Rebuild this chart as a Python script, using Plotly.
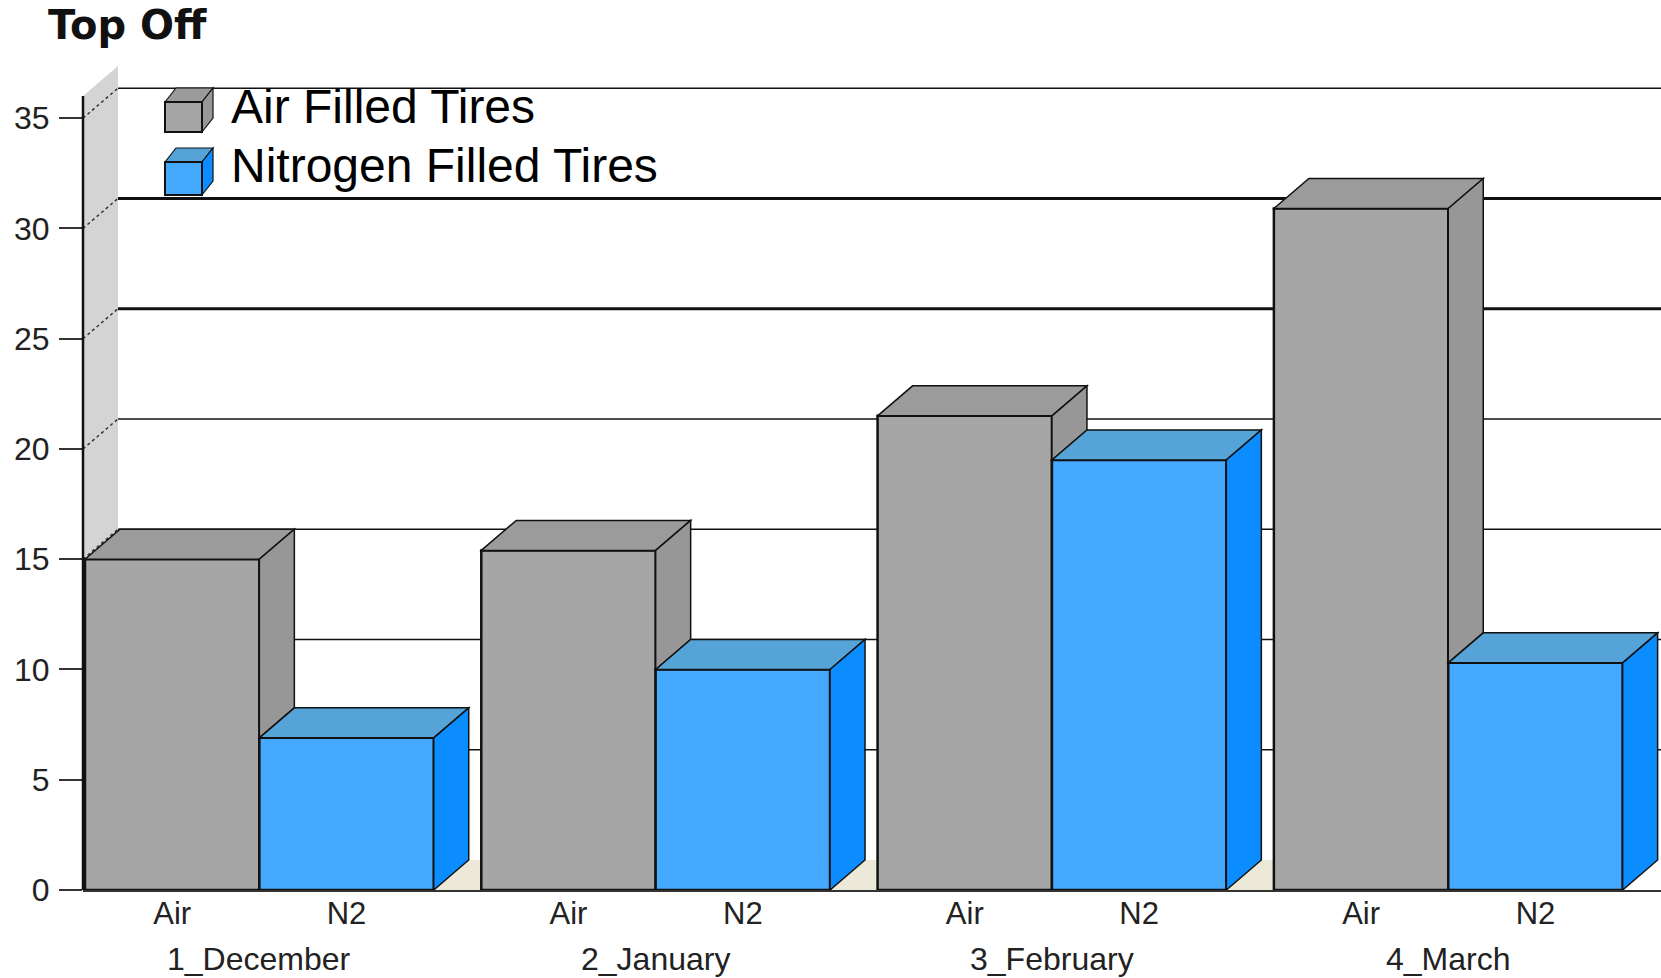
import plotly.graph_objects as go

# ---- data -------------------------------------------------------------
months = ["1_December", "2_January", "3_February", "4_March"]
bar_labels = ["Air", "N2"]
series_names = ["Air Filled Tires", "Nitrogen Filled Tires"]
air_values = [15.0, 15.4, 21.5, 30.9]
n2_values = [6.9, 10.0, 19.5, 10.3]
y_ticks = [0, 5, 10, 15, 20, 25, 30, 35]

# ---- geometry / style -------------------------------------------------
W, H = 1661, 978
M_L, M_R, M_T, M_B = 83, 0, 63, 88
PLOT_W = W - M_L - M_R
PLOT_H = H - M_T - M_B
GROUP_PX = 396.3                      # pixels between month groups
Y_RANGE = [0, 37.5]
X_RANGE = [-0.445, -0.445 + PLOT_W / GROUP_PX]
BAR_W = 0.44
DEPTH_PX = (35, 30)                   # 3-D extrusion (right, up) in pixels
WALL_TOP = 36
GRID_WIDTHS = {5: 1.5, 10: 1.5, 15: 1.5, 20: 1.5, 25: 3, 30: 3, 35: 1.5}

AIR = dict(front="#a6a6a6", top="#9b9b9b", side="#979797")
N2 = dict(front="#44a9ff", top="#55a3d7", side="#0b8cff")
WALL = "#d4d4d4"
FLOOR = "#ece9d8"
EDGE = "#111111"
FONT = "Liberation Sans, Arial, sans-serif"

px_x = PLOT_W / (X_RANGE[1] - X_RANGE[0])
px_y = PLOT_H / (Y_RANGE[1] - Y_RANGE[0])
DX = DEPTH_PX[0] / px_x
DY = DEPTH_PX[1] / px_y


def path(points):
    return "M " + " L ".join(f"{x},{y}" for x, y in points) + " Z"


def face(points, fill, layer="above", width=1.5, xref="x", yref="y"):
    return dict(type="path", path=path(points), fillcolor=fill, xref=xref, yref=yref,
                line=dict(color=EDGE, width=width), layer=layer)


def to_paper(px, py):
    return (px - M_L) / PLOT_W, (H - M_B - py) / PLOT_H


fig = go.Figure()

# front faces of the bars
groups = list(range(len(months)))
fig.add_trace(go.Bar(x=groups, y=air_values, name=series_names[0], width=BAR_W, offset=-BAR_W,
                     marker=dict(color=AIR["front"], line=dict(color=EDGE, width=2.5))))
fig.add_trace(go.Bar(x=groups, y=n2_values, name=series_names[1], width=BAR_W, offset=0,
                     marker=dict(color=N2["front"], line=dict(color=EDGE, width=2.5))))

shapes = []
x0 = X_RANGE[0]

# back wall on the left and the floor
shapes.append(dict(type="path", layer="below", fillcolor=WALL, line=dict(width=0),
                   xref="x", yref="y",
                   path=path([(x0, 0), (x0 + DX, DY), (x0 + DX, WALL_TOP + DY), (x0, WALL_TOP)])))
floor_right = groups[-1] + BAR_W
shapes.append(dict(type="path", layer="below", fillcolor=FLOOR, line=dict(width=0),
                   xref="x", yref="y",
                   path=path([(x0, 0), (x0 + DX, DY), (floor_right + DX, DY), (floor_right, 0)])))

# gridlines on the back plane and their diagonals across the wall
for v in y_ticks[1:]:
    shapes.append(dict(type="line", layer="below", xref="x", yref="y",
                       x0=x0 + DX, x1=X_RANGE[1], y0=v + DY, y1=v + DY,
                       line=dict(color=EDGE, width=GRID_WIDTHS[v])))
    shapes.append(dict(type="line", layer="below", xref="x", yref="y",
                       x0=x0, x1=x0 + DX, y0=v, y1=v + DY,
                       line=dict(color="#333333", width=1.5, dash="dot")))

# vertical axis line
shapes.append(dict(type="line", layer="above", xref="paper", yref="y", x0=0, x1=0,
                   y0=0, y1=WALL_TOP, line=dict(color=EDGE, width=2.5)))

# top and side faces of each bar
for g, a, n in zip(groups, air_values, n2_values):
    left, mid, right = g - BAR_W, g, g + BAR_W
    shapes.append(face([(left, a), (left + DX, a + DY), (mid + DX, a + DY), (mid, a)], AIR["top"]))
    if a > n:
        shapes.append(face([(mid, n), (mid + DX, n + DY), (mid + DX, a + DY), (mid, a)], AIR["side"]))
    shapes.append(face([(mid, n), (mid + DX, n + DY), (right + DX, n + DY), (right, n)], N2["top"]))
    shapes.append(face([(right, 0), (right + DX, DY), (right + DX, n + DY), (right, n)], N2["side"]))

# legend cubes and labels
annotations = []
legend_rows = [(series_names[0], AIR, 102, 132, 107), (series_names[1], N2, 162, 195, 166)]
for name, col, top_px, bot_px, text_px in legend_rows:
    lx, rx, d = 165, 202, (11, 14)
    fl, fb = to_paper(lx, bot_px)
    fr, ft = to_paper(rx, top_px)
    ddx = d[0] / PLOT_W
    ddy = d[1] / PLOT_H
    shapes.append(face([(fl, ft), (fl + ddx, ft + ddy), (fr + ddx, ft + ddy), (fr, ft)], col["top"],
                       width=1.2, xref="paper", yref="paper"))
    shapes.append(face([(fr, fb), (fr + ddx, fb + ddy), (fr + ddx, ft + ddy), (fr, ft)], col["side"],
                       width=1.2, xref="paper", yref="paper"))
    shapes.append(face([(fl, fb), (fl, ft), (fr, ft), (fr, fb)], col["front"],
                       width=2, xref="paper", yref="paper"))
    tx, ty = to_paper(229, text_px)
    annotations.append(dict(text=name, xref="paper", yref="paper", x=tx, y=ty,
                            xanchor="left", yanchor="middle", showarrow=False,
                            font=dict(family=FONT, size=48, color="#000000")))

# month labels under each pair of bars
for g, m in zip(groups, months):
    annotations.append(dict(text=m, xref="x", yref="paper", x=g, y=0, yshift=-69,
                            xanchor="center", yanchor="middle", showarrow=False,
                            font=dict(family=FONT, size=32, color="#222222")))

tick_vals, tick_text = [], []
for g in groups:
    tick_vals += [g - BAR_W / 2, g + BAR_W / 2]
    tick_text += bar_labels

fig.update_layout(
    width=W, height=H,
    margin=dict(l=M_L, r=M_R, t=M_T, b=M_B, pad=0),
    paper_bgcolor="white", plot_bgcolor="white",
    barmode="overlay", showlegend=False,
    title=dict(text="Top Off", x=48 / W, xanchor="left", y=1 - 25 / H, yanchor="middle",
               xref="container", yref="container",
               font=dict(family="DejaVu Sans", size=40, color="#111111", weight="bold")),
    xaxis=dict(range=X_RANGE, tickvals=tick_vals, ticktext=tick_text, ticks="",
               ticklabelstandoff=-5,
               showgrid=False, zeroline=False, showline=True, linecolor="#333333", linewidth=2,
               tickfont=dict(family=FONT, size=31, color="#222222")),
    yaxis=dict(range=Y_RANGE, tickvals=y_ticks, ticks="outside", ticklen=23, tickwidth=2,
               tickcolor="#333333", showgrid=False, zeroline=False, showline=False,
               ticklabelstandoff=3,
               tickfont=dict(family=FONT, size=32, color="#222222")),
    shapes=shapes,
    annotations=annotations,
)

fig.write_html("out.html")
